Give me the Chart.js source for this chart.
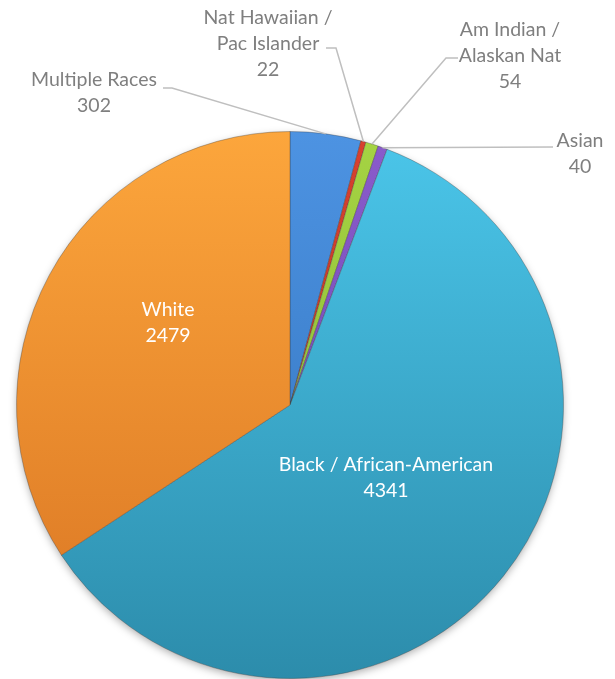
<!DOCTYPE html>
<html>
<head>
<meta charset="utf-8">
<script src="https://cdn.jsdelivr.net/npm/chart.js@4"></script>
<style>
  html, body { margin: 0; padding: 0; background: #fff; }
  #wrap { width: 615px; height: 679px; }
</style>
</head>
<body>
<div id="wrap"><canvas id="graficoRacas"></canvas></div>
<script>
// dados do gráfico
const categorias = ['Multiple Races', 'Nat Hawaiian / Pac Islander', 'Am Indian / Alaskan Nat', 'Asian', 'Black / African-American', 'White'];
const valores = [302, 22, 54, 40, 4341, 2479];
const coresTopo = ['#4d93e2', '#d8412f', '#a5d443', '#8a5ccc', '#4bc6ea', '#fca63c'];
const coresBase = ['#2f6fb8', '#b0301f', '#85b232', '#6a40a8', '#2c8cab', '#d97422'];

// onde fica cada rótulo (linhas do texto, posição, cotovelo da linha guia)
const rotulos = [
    { linhas: ['Multiple Races', '302'], x: 94, y: 80, cotovelo: [[163, 88], [172, 88]] },
    { linhas: ['Nat Hawaiian /', 'Pac Islander', '22'], x: 268, y: 18, cotovelo: [[326, 48], [336, 48]] },
    { linhas: ['Am Indian /', 'Alaskan Nat', '54'], x: 510, y: 30, cotovelo: [[458, 58], [446, 58]] },
    { linhas: ['Asian', '40'], x: 580, y: 141, cotovelo: [[553, 147]] },
    { linhas: ['Black / African-American', '4341'], x: 386, y: 465, dentro: true },
    { linhas: ['White', '2479'], x: 168, y: 310, dentro: true }
];

const fonte = '19.5px Lato';

// sombra suave por baixo da pizza
const pluginSombra = {
    id: 'sombra',
    beforeDatasetsDraw(chart) {
        const a = chart.getDatasetMeta(0).data[0];
        if (!a) return;
        const ctx = chart.ctx;
        ctx.save();
        ctx.shadowColor = 'rgba(0,0,0,0.35)';
        ctx.shadowBlur = 8;
        ctx.shadowOffsetY = 3;
        ctx.fillStyle = '#ffffff';
        ctx.beginPath();
        ctx.arc(a.x, a.y, a.outerRadius - 1, 0, Math.PI * 2);
        ctx.fill();
        ctx.restore();
    }
};

const pluginRotulos = {
    id: 'rotulos',
    afterDatasetsDraw(chart) {
        const ctx = chart.ctx;
        const arcos = chart.getDatasetMeta(0).data;
        ctx.save();
        ctx.font = fonte;
        ctx.textAlign = 'center';
        ctx.textBaseline = 'middle';
        rotulos.forEach((r, i) => {
            if (!r.dentro) {
                const a = arcos[i];
                const meio = (a.startAngle + a.endAngle) / 2;
                const px = a.x + Math.cos(meio) * a.outerRadius;
                const py = a.y + Math.sin(meio) * a.outerRadius;
                ctx.strokeStyle = '#bfbfbf';
                ctx.lineWidth = 1.5;
                ctx.beginPath();
                ctx.moveTo(r.cotovelo[0][0], r.cotovelo[0][1]);
                for (let k = 1; k < r.cotovelo.length; k++) ctx.lineTo(r.cotovelo[k][0], r.cotovelo[k][1]);
                ctx.lineTo(px, py);
                ctx.stroke();
            }
            ctx.fillStyle = r.dentro ? '#ffffff' : '#7f7f7f';
            r.linhas.forEach((t, k) => {
                ctx.fillText(t, r.x, r.y + k * 26);
            });
        });
        ctx.restore();
    }
};

function gradiente(ctxScript) {
    const chart = ctxScript.chart;
    const i = ctxScript.dataIndex;
    const area = chart.chartArea;
    if (!area) return coresTopo[i];
    const g = chart.ctx.createLinearGradient(0, area.top, 0, area.bottom);
    g.addColorStop(0, coresTopo[i]);
    g.addColorStop(1, coresBase[i]);
    return g;
}

const ctxRacas = document.getElementById('graficoRacas').getContext('2d');
const graficoRacas = new Chart(ctxRacas, {
    type: 'pie',
    data: {
        labels: categorias,
        datasets: [{
            data: valores,
            backgroundColor: gradiente,
            borderColor: 'rgba(60,60,60,0.35)',
            borderWidth: 1
        }]
    },
    options: {
        responsive: true,
        maintainAspectRatio: false,
        animation: false,
        layout: {
            padding: { left: 16, top: 131, right: 51, bottom: 0 }
        },
        plugins: {
            legend: { display: false },
            tooltip: { enabled: false }
        }
    },
    plugins: [pluginSombra, pluginRotulos]
});
</script>
</body>
</html>
